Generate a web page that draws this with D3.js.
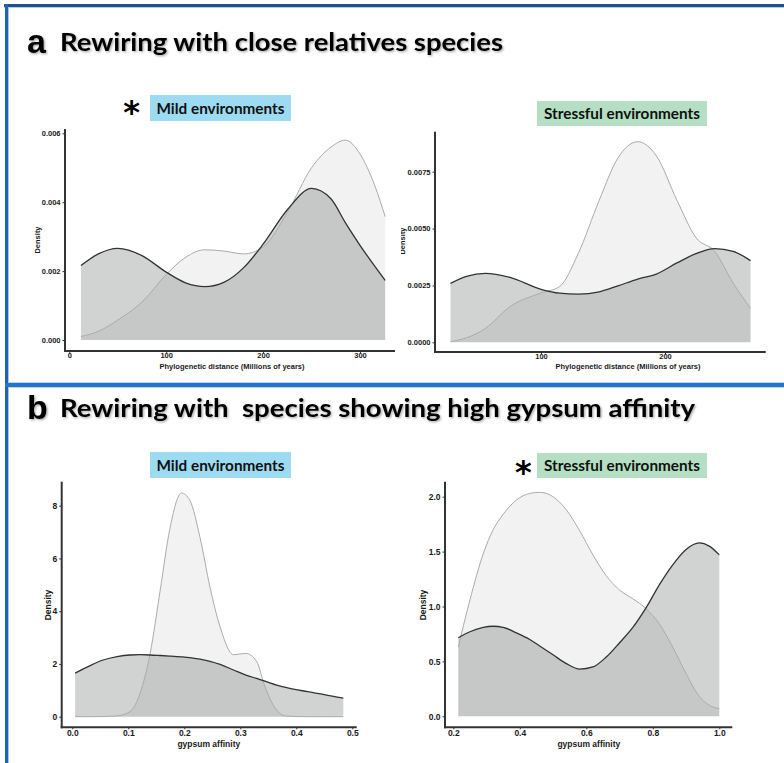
<!DOCTYPE html>
<html>
<head>
<meta charset="utf-8">
<script src="https://cdn.jsdelivr.net/npm/d3@7"></script>
<style>
  body { margin: 0; background: #fff; }
  svg { display: block; }
</style>
</head>
<body>
<svg id="chart" width="784" height="763"></svg>
<script>
// ---- Phylogenetic distance, mild environments (density estimates) ----
const phyloMildX     = [12, 30, 50, 75, 100, 120, 140, 160, 180, 200, 225, 250, 270, 285, 300, 315, 326];
const phyloMildDark  = [0.00216, 0.00250, 0.00266, 0.00245, 0.00197, 0.00166, 0.00155, 0.00168, 0.00210, 0.00278, 0.00378, 0.00440, 0.00410, 0.00340, 0.00275, 0.00215, 0.00173];
const phyloMildLight = [0.00010, 0.00025, 0.00058, 0.00110, 0.00190, 0.00240, 0.00262, 0.00258, 0.00250, 0.00270, 0.00370, 0.00500, 0.00560, 0.00580, 0.00540, 0.00450, 0.00358];

// ---- Phylogenetic distance, stressful environments ----
const phyloStressX     = [27, 40, 55, 75, 100, 115, 130, 147, 162, 178, 193, 210, 225, 240, 255, 269];
const phyloStressDark  = [0.00259, 0.00290, 0.00303, 0.00285, 0.00233, 0.00216, 0.00212, 0.00222, 0.00248, 0.00278, 0.00300, 0.00350, 0.00390, 0.00412, 0.00400, 0.00359];
const phyloStressLight = [0.00003, 0.00020, 0.00060, 0.00157, 0.00217, 0.00245, 0.00390, 0.00625, 0.00810, 0.00882, 0.00820, 0.00620, 0.00460, 0.00400, 0.00260, 0.00149];

// ---- Gypsum affinity, mild environments ----
const gypMildX     = [0.005, 0.03, 0.055, 0.08, 0.103, 0.121, 0.139, 0.157, 0.174, 0.195, 0.21, 0.228, 0.246, 0.264, 0.288, 0.31, 0.329, 0.344, 0.365, 0.383, 0.42, 0.45, 0.484];
const gypMildDark  = [1.65, 1.92, 2.15, 2.28, 2.34, 2.35, 2.34, 2.32, 2.30, 2.27, 2.24, 2.18, 2.10, 1.98, 1.77, 1.58, 1.45, 1.35, 1.20, 1.10, 0.95, 0.84, 0.70];
const gypMildLight = [0, 0, 0.005, 0.03, 0.19, 0.89, 2.4, 4.8, 7.1, 8.48, 8.2, 6.8, 4.9, 3.4, 2.35, 2.4, 2.1, 1.14, 0.25, 0.02, 0, 0, 0];

// ---- Gypsum affinity, stressful environments ----
const gypStressX     = [0.215, 0.25, 0.29, 0.32, 0.35, 0.39, 0.43, 0.46, 0.50, 0.54, 0.58, 0.62, 0.66, 0.70, 0.74, 0.78, 0.82, 0.86, 0.90, 0.94, 0.97, 1.0];
const gypStressDark  = [0.715, 0.77, 0.81, 0.82, 0.81, 0.76, 0.70, 0.64, 0.56, 0.48, 0.43, 0.45, 0.54, 0.67, 0.81, 0.99, 1.20, 1.38, 1.52, 1.58, 1.55, 1.47];
const gypStressLight = [0.63, 1.06, 1.48, 1.70, 1.84, 1.97, 2.03, 2.04, 2.00, 1.88, 1.69, 1.47, 1.28, 1.15, 1.07, 0.98, 0.84, 0.63, 0.39, 0.18, 0.10, 0.07];

// ---- Tick values ----
const phyloMildTicksX   = [0, 100, 200, 300];
const phyloMildTicksY   = [0, 0.002, 0.004, 0.006];
const phyloStressTicksX = [100, 200];
const phyloStressTicksY = [0, 0.0025, 0.005, 0.0075];
const gypMildTicksX     = [0, 0.1, 0.2, 0.3, 0.4, 0.5];
const gypMildTicksY     = [0, 2, 4, 6, 8];
const gypStressTicksX   = [0.2, 0.4, 0.6, 0.8, 1.0];
const gypStressTicksY   = [0, 0.5, 1.0, 1.5, 2.0];

// ---- Text ----
const headingA = "Rewiring with close relatives species";
const headingB = "Rewiring with  species showing high gypsum affinity";
const mildLabel = "Mild environments";
const stressLabel = "Stressful environments";
const phyloAxisTitle = "Phylogenetic distance (Millions of years)";
const gypAxisTitle = "gypsum affinity";
const densityTitle = "Density";

const svg = d3.select("#chart");
const defs = svg.append("defs");

// soft shadow behind the section headings
const shadow = defs.append("filter").attr("id", "headShadow")
  .attr("x", "-5%").attr("y", "-30%").attr("width", "110%").attr("height", "160%");
shadow.append("feDropShadow").attr("dx", 1.2).attr("dy", 1.2)
  .attr("stdDeviation", 1).attr("flood-color", "#000").attr("flood-opacity", 0.35);

defs.append("clipPath").attr("id", "clipDensity")
  .append("rect").attr("x", 401).attr("y", 0).attr("width", 30).attr("height", 763);

// ---- frame lines ----
svg.append("rect").attr("x", 4).attr("y", 4).attr("width", 780).attr("height", 3).attr("fill", "#1e4f8e");
svg.append("rect").attr("x", 4).attr("y", 7).attr("width", 780).attr("height", 1).attr("fill", "#b7cbe3");
svg.append("rect").attr("x", 5).attr("y", 4).attr("width", 3).attr("height", 759).attr("fill", "#2163b3");
svg.append("rect").attr("x", 8).attr("y", 8).attr("width", 1).attr("height", 755).attr("fill", "#a9c6ea");
svg.append("rect").attr("x", 5).attr("y", 383).attr("width", 779).attr("height", 4).attr("fill", "#2674c9");
svg.append("rect").attr("x", 9).attr("y", 382).attr("width", 775).attr("height", 1).attr("fill", "#b9d3f0");
svg.append("rect").attr("x", 9).attr("y", 387).attr("width", 775).attr("height", 1).attr("fill", "#b9d3f0");

// ---- headings ----
function heading(letter, text, yBase, width) {
  svg.append("text").attr("x", 27).attr("y", yBase + 2)
    .attr("font-family", "Liberation Sans, Arial, sans-serif").attr("font-weight", "bold")
    .attr("font-size", 34).attr("fill", "#000").attr("filter", "url(#headShadow)").text(letter);
  svg.append("text").attr("x", 60).attr("y", yBase)
    .attr("font-family", "Lato, 'Open Sans', sans-serif").attr("font-weight", "bold")
    .attr("font-size", 24).attr("fill", "#000").style("white-space", "pre")
    .attr("textLength", width).attr("lengthAdjust", "spacingAndGlyphs")
    .attr("filter", "url(#headShadow)").text(text);
}
heading("a", headingA, 51, 443);
heading("b", headingB, 417, 635);

// ---- environment tags ----
function tag(x0, y0, w, h, fill, text, textW) {
  svg.append("rect").attr("x", x0).attr("y", y0).attr("width", w).attr("height", h).attr("fill", fill);
  svg.append("text").attr("x", x0 + w / 2).attr("y", y0 + h / 2 + 5.5)
    .attr("text-anchor", "middle")
    .attr("font-family", "Lato, 'Open Sans', sans-serif").attr("font-weight", "bold")
    .attr("font-size", 15.5).attr("fill", "#111")
    .attr("textLength", textW).attr("lengthAdjust", "spacingAndGlyphs").text(text);
}
tag(150, 95, 141, 26, "#9cdbf2", mildLabel, 128);
tag(537, 101, 170, 25, "#b4dfc2", stressLabel, 156);
tag(150, 452, 141, 26, "#9cdbf2", mildLabel, 128);
tag(537, 453, 170, 25, "#b4dfc2", stressLabel, 156);

// significance marks
function star(cx, cy) {
  svg.append("text").attr("x", cx).attr("y", cy + 15).attr("text-anchor", "middle")
    .attr("font-family", "DejaVu Sans, sans-serif").attr("font-weight", "bold")
    .attr("font-size", 32).attr("fill", "#000").text("*");
}
star(131.7, 108);
star(523.3, 468.3);

// ---- density panels ----
const panels = [
  { xs: phyloMildX, dark: phyloMildDark, light: phyloMildLight,
    xDom: [0, 300], xRng: [69.3, 360], yDom: [0, 0.006], yRng: [340, 133.3],
    xTicks: phyloMildTicksX, yTicks: phyloMildTicksY, xFmt: d3.format("d"), yFmt: d3.format(".3f"),
    axX: 65, axTop: 129, axBot: 351, axRight: 395, fs: 7.5, xPad: 0,
    xTitle: phyloAxisTitle, xTitlePos: [232, 368.5], yTitlePos: [40, 240], clip: null },
  { xs: phyloStressX, dark: phyloStressDark, light: phyloStressLight,
    xDom: [100, 200], xRng: [541, 665], yDom: [0, 0.0075], yRng: [342.3, 171.7],
    xTicks: phyloStressTicksX, yTicks: phyloStressTicksY, xFmt: d3.format("d"), yFmt: d3.format(".4f"),
    axX: 435, axTop: 131.7, axBot: 352, axRight: 765.7, fs: 7.5, xPad: 0,
    xTitle: phyloAxisTitle, xTitlePos: [628, 369], yTitlePos: [405, 241], clip: "url(#clipDensity)" },
  { xs: gypMildX, dark: gypMildDark, light: gypMildLight,
    xDom: [0, 0.5], xRng: [72.3, 352.3], yDom: [0, 8], yRng: [716.7, 505.7],
    xTicks: gypMildTicksX, yTicks: gypMildTicksY, xFmt: d3.format(".1f"), yFmt: d3.format("d"),
    axX: 61.7, axTop: 481.7, axBot: 727.3, axRight: 356.7, fs: 8.5, xPad: 1,
    xTitle: gypAxisTitle, xTitlePos: [208.8, 746.5], yTitlePos: [50.5, 605], clip: null },
  { xs: gypStressX, dark: gypStressDark, light: gypStressLight,
    xDom: [0.2, 1.0], xRng: [453.3, 719.3], yDom: [0, 2.0], yRng: [716.3, 496.7],
    xTicks: gypStressTicksX, yTicks: gypStressTicksY, xFmt: d3.format(".1f"), yFmt: d3.format(".1f"),
    axX: 445, axTop: 481.7, axBot: 727.3, axRight: 732.3, fs: 8.5, xPad: 1,
    xTitle: gypAxisTitle, xTitlePos: [588.8, 746.5], yTitlePos: [426, 605], clip: null }
];

const boldSans = "Liberation Sans, Arial, sans-serif";

panels.forEach(p => {
  const x = d3.scaleLinear().domain(p.xDom).range(p.xRng);
  const y = d3.scaleLinear().domain(p.yDom).range(p.yRng);
  const g = svg.append("g");

  const area = d3.area().x(d => x(d[0])).y0(y(0)).y1(d => y(d[1])).curve(d3.curveMonotoneX);
  const line = d3.line().x(d => x(d[0])).y(d => y(d[1])).curve(d3.curveMonotoneX);
  const lightPts = p.xs.map((v, i) => [v, p.light[i]]);
  const darkPts = p.xs.map((v, i) => [v, p.dark[i]]);

  g.append("path").datum(lightPts).attr("d", area).attr("fill", "#000").attr("fill-opacity", 0.05);
  g.append("path").datum(darkPts).attr("d", area).attr("fill", "#1a1f1f").attr("fill-opacity", 0.2);
  g.append("path").datum(lightPts).attr("d", line).attr("fill", "none")
    .attr("stroke", "#ababab").attr("stroke-width", 1);
  g.append("path").datum(darkPts).attr("d", line).attr("fill", "none")
    .attr("stroke", "#333").attr("stroke-width", 1.3);

  // axes
  const yAxis = g.append("g").attr("transform", `translate(${p.axX},0)`)
    .call(d3.axisLeft(y).tickValues(p.yTicks).tickFormat(p.yFmt).tickSize(2.5).tickPadding(2));
  const xAxis = g.append("g").attr("transform", `translate(0,${p.axBot})`)
    .call(d3.axisBottom(x).tickValues(p.xTicks).tickFormat(p.xFmt).tickSize(2).tickPadding(p.xPad));
  [yAxis, xAxis].forEach(a => {
    a.select(".domain").remove();
    a.selectAll(".tick line").attr("stroke", "#333");
    a.selectAll(".tick text").attr("font-family", boldSans).attr("font-weight", "bold")
      .attr("font-size", p.fs).attr("fill", "#1a1a1a");
  });
  g.append("line").attr("x1", p.axX).attr("x2", p.axX).attr("y1", p.axTop).attr("y2", p.axBot + 1)
    .attr("stroke", "#333").attr("stroke-width", 2);
  g.append("line").attr("x1", p.axX - 1).attr("x2", p.axRight).attr("y1", p.axBot).attr("y2", p.axBot)
    .attr("stroke", "#333").attr("stroke-width", 2);

  // axis titles
  g.append("text").attr("x", p.xTitlePos[0]).attr("y", p.xTitlePos[1]).attr("text-anchor", "middle")
    .attr("font-family", boldSans).attr("font-weight", "bold").attr("font-size", p.fs)
    .attr("fill", "#1a1a1a").text(p.xTitle);
  const yt = g.append("text")
    .attr("transform", `translate(${p.yTitlePos[0]},${p.yTitlePos[1]}) rotate(-90)`)
    .attr("text-anchor", "middle")
    .attr("font-family", boldSans).attr("font-weight", "bold").attr("font-size", p.fs)
    .attr("fill", "#1a1a1a").text(densityTitle);
  if (p.clip) {
    const cg = g.append("g").attr("clip-path", p.clip);
    cg.node().appendChild(yt.node());
  }
});
</script>
</body>
</html>
